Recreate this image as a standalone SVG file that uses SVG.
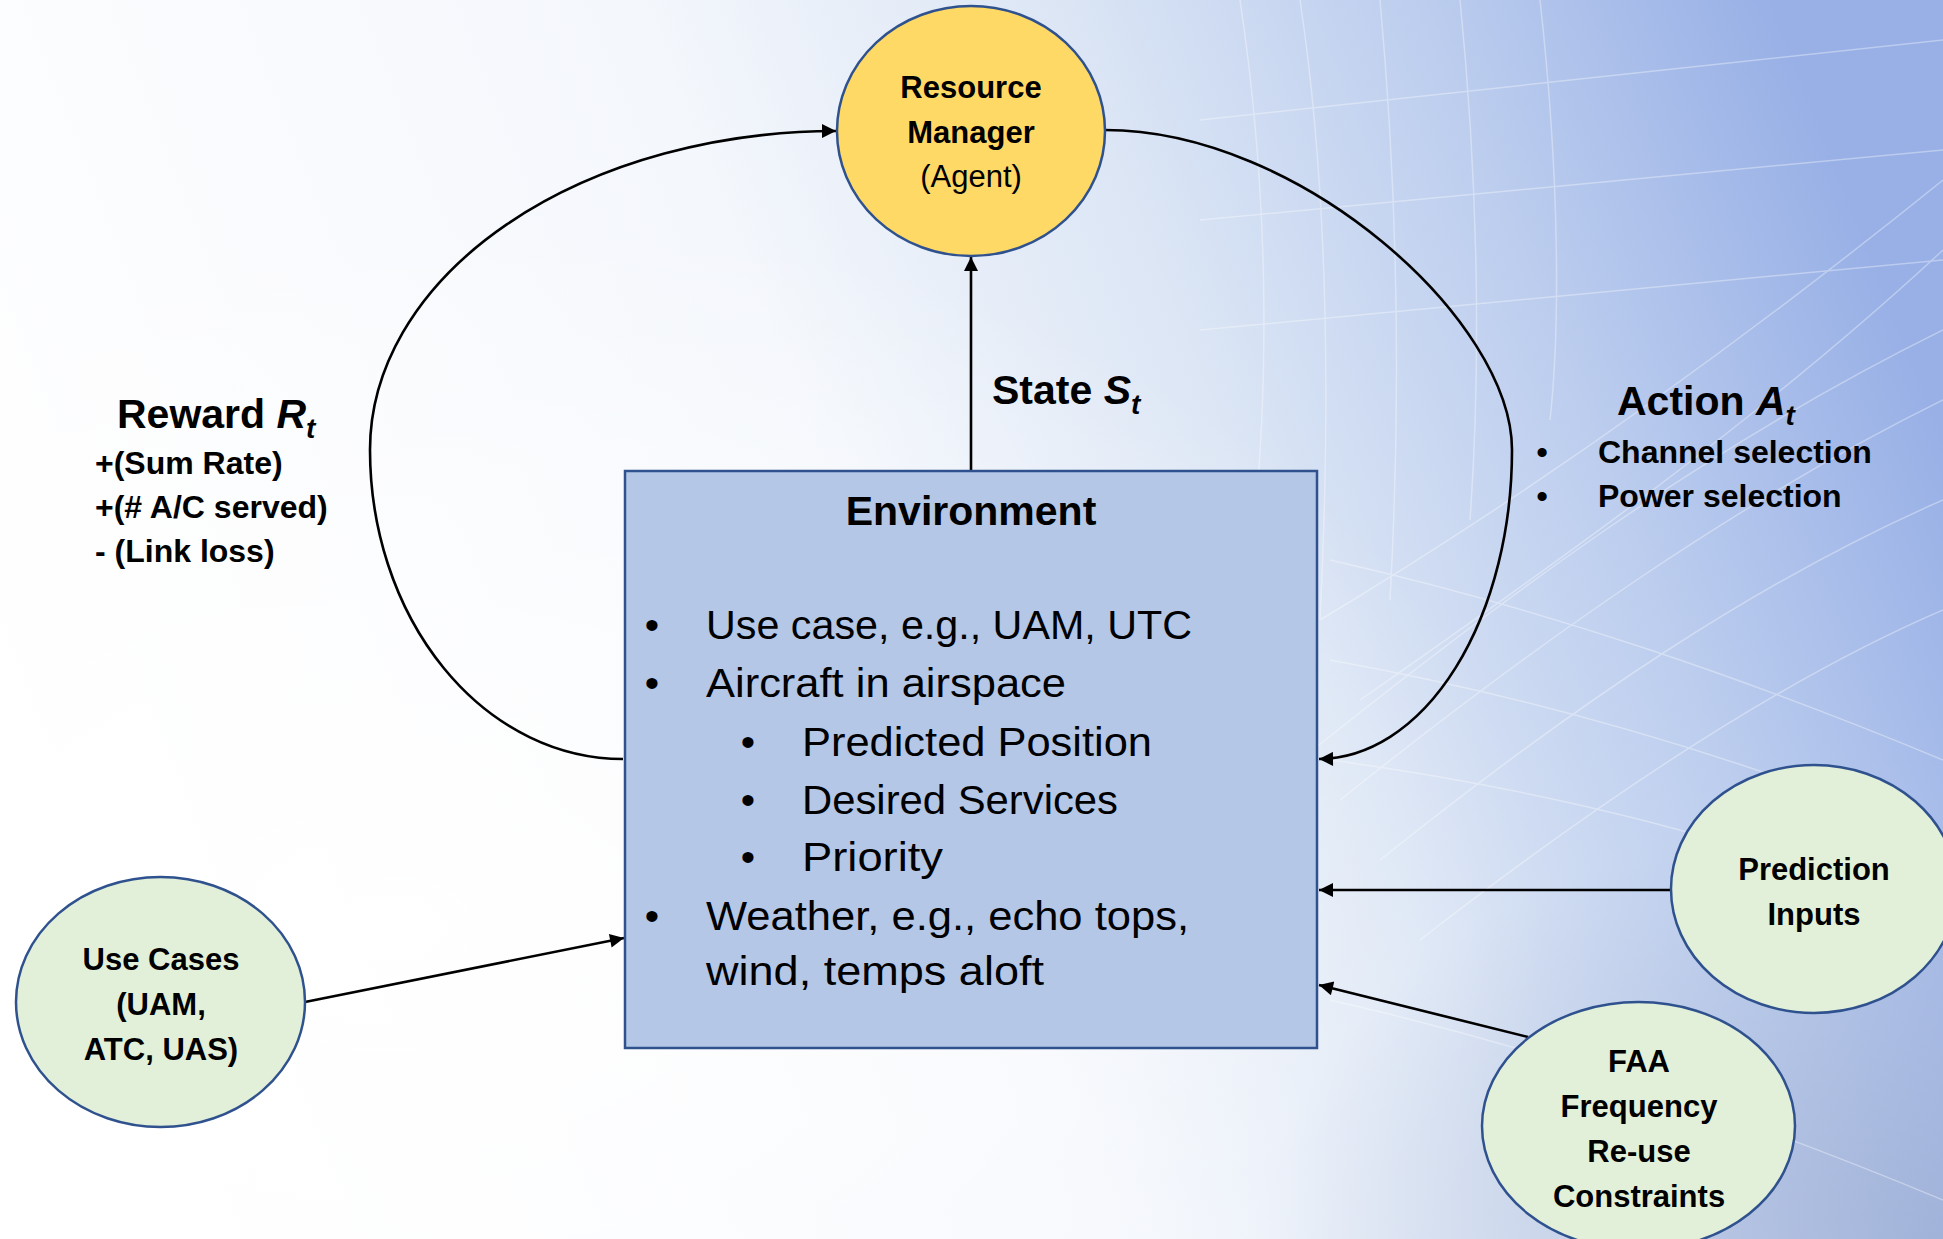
<svg xmlns="http://www.w3.org/2000/svg" width="1943" height="1239" viewBox="0 0 1943 1239">
<defs>
<linearGradient id="bg" x1="0" y1="0.6" x2="1" y2="0.35">
<stop offset="0" stop-color="#ffffff"/>
<stop offset="0.45" stop-color="#f4f7fc"/>
<stop offset="0.65" stop-color="#dce6f5"/>
<stop offset="0.83" stop-color="#bccdee"/>
<stop offset="1" stop-color="#98b0e6"/>
</linearGradient>
<radialGradient id="glow" cx="0.2" cy="0.75" r="0.6">
<stop offset="0" stop-color="#ffffff" stop-opacity="0.9"/>
<stop offset="1" stop-color="#ffffff" stop-opacity="0"/>
</radialGradient>
<radialGradient id="shade" cx="1" cy="1" r="0.35">
<stop offset="0" stop-color="#8a9bc6" stop-opacity="0.5"/>
<stop offset="1" stop-color="#8a9bc6" stop-opacity="0"/>
</radialGradient>
<marker id="arrow" viewBox="0 0 10 10" refX="10" refY="5" markerUnits="userSpaceOnUse" markerWidth="19" markerHeight="14" orient="auto">
<path d="M0,0 L10,5 L0,10 z" fill="#000"/>
</marker>
</defs>
<style>
.conn{fill:none;stroke:#000;stroke-width:2.6;marker-end:url(#arrow)}
.node{stroke:#2F528F;stroke-width:2.5}
.yellow{fill:#FFD966}
.green{fill:#E2F0D9}
.box{fill:#B4C7E7;stroke:#2F528F;stroke-width:2.5}
.t{font-family:"Liberation Sans",Arial,sans-serif;fill:#000}
.nb{font-size:31px;font-weight:bold;text-anchor:middle}
.nr{font-size:31px;text-anchor:middle}
.big{font-size:41px;font-weight:bold}
.sm{font-size:32px;font-weight:bold}
.body{font-size:41px}
.it{font-style:italic}
.sub{font-style:italic;font-size:28px}
.tex{fill:none;stroke:#ffffff;stroke-width:1.5;opacity:0.35}
</style>
<g id="background">
<rect x="0" y="0" width="1943" height="1239" fill="url(#bg)"/>
<rect x="0" y="0" width="1943" height="1239" fill="url(#glow)"/>
<rect x="0" y="0" width="1943" height="1239" fill="url(#shade)"/>
<g class="tex">
<path d="M1240 0 C1270 200 1270 400 1250 560"/>
<path d="M1300 0 C1330 200 1330 420 1320 620"/>
<path d="M1380 0 C1400 220 1400 420 1390 600"/>
<path d="M1460 0 C1480 200 1480 380 1470 520"/>
<path d="M1540 0 C1560 180 1560 330 1550 420"/>
<path d="M1200 120 L1943 40"/>
<path d="M1200 220 L1943 150"/>
<path d="M1200 330 L1943 260"/>
<path d="M1300 760 C1500 600 1700 450 1943 330"/>
<path d="M1340 800 C1540 640 1740 500 1943 400"/>
<path d="M1380 860 C1580 700 1760 580 1943 500"/>
<path d="M1420 940 C1600 800 1780 680 1943 610"/>
<path d="M1360 700 C1560 560 1760 420 1943 250"/>
<path d="M1320 620 C1520 500 1720 360 1943 180"/>
<path d="M1330 1000 C1550 1050 1750 1120 1943 1200"/>
<path d="M1330 560 C1550 610 1750 680 1943 760"/>
<path d="M1330 660 C1550 700 1750 760 1943 840"/>
<path d="M1330 760 C1550 790 1750 840 1943 920"/>
</g>
</g>
<g id="connectors">
<path id="reward" class="conn" d="M623 759 A253 309 0 0 1 370 450 A467 319 0 0 1 836 131"/>
<path id="action" class="conn" d="M1105 130 C1300 130 1512 320 1512 450 A194 309 0 0 1 1319 759"/>
<path id="state" class="conn" d="M971 471 L971 257"/>
<path id="usecases-env" class="conn" d="M305 1002 L624 938"/>
<path id="prediction-env" class="conn" d="M1671 890 L1319 890"/>
<path id="faa-env" class="conn" d="M1528 1037 L1319 985"/>
</g>
<g id="label-reward">
<text class="t big" x="117" y="428">Reward <tspan class="it">R</tspan><tspan class="sub" dy="10">t</tspan></text>
<text class="t sm" x="95" y="474">+(Sum Rate)</text>
<text class="t sm" x="95" y="518">+(# A/C served)</text>
<text class="t sm" x="95" y="562">- (Link loss)</text>
</g>
<g id="label-state">
<text class="t big" x="992" y="404">State <tspan class="it">S</tspan><tspan class="sub" dy="10">t</tspan></text>
</g>
<g id="label-action">
<text class="t big" x="1617" y="415">Action <tspan class="it">A</tspan><tspan class="sub" dy="10">t</tspan></text>
<text class="t sm" x="1542" y="463" text-anchor="middle">•</text>
<text class="t sm" x="1598" y="463">Channel selection</text>
<text class="t sm" x="1542" y="507" text-anchor="middle">•</text>
<text class="t sm" x="1598" y="507">Power selection</text>
</g>
<g id="resource-manager">
<ellipse class="node yellow" cx="971" cy="131" rx="134" ry="125"/>
<text class="t nb" x="971" y="98">Resource</text>
<text class="t nb" x="971" y="143">Manager</text>
<text class="t nr" x="971" y="187">(Agent)</text>
</g>
<g id="environment">
<rect class="box" x="625" y="471" width="692" height="577"/>
<text class="t big" x="971" y="525" text-anchor="middle">Environment</text>
<g class="t body">
<text x="652" y="639" text-anchor="middle">•</text>
<text x="706" y="639" textLength="486" lengthAdjust="spacingAndGlyphs">Use case, e.g., UAM, UTC</text>
<text x="652" y="697" text-anchor="middle">•</text>
<text x="706" y="697" textLength="360" lengthAdjust="spacingAndGlyphs">Aircraft in airspace</text>
<text x="748" y="756" text-anchor="middle">•</text>
<text x="802" y="756" textLength="350" lengthAdjust="spacingAndGlyphs">Predicted Position</text>
<text x="748" y="814" text-anchor="middle">•</text>
<text x="802" y="814" textLength="316" lengthAdjust="spacingAndGlyphs">Desired Services</text>
<text x="748" y="871" text-anchor="middle">•</text>
<text x="802" y="871" textLength="141" lengthAdjust="spacingAndGlyphs">Priority</text>
<text x="652" y="930" text-anchor="middle">•</text>
<text x="706" y="930" textLength="483" lengthAdjust="spacingAndGlyphs">Weather, e.g., echo tops,</text>
<text x="706" y="985" textLength="338" lengthAdjust="spacingAndGlyphs">wind, temps aloft</text>
</g>
</g>
<g id="use-cases">
<ellipse class="node green" cx="160.5" cy="1002" rx="144.5" ry="125"/>
<text class="t nb" x="161" y="970">Use Cases</text>
<text class="t nb" x="161" y="1015">(UAM,</text>
<text class="t nb" x="161" y="1060">ATC, UAS)</text>
</g>
<g id="prediction-inputs">
<ellipse class="node green" cx="1814" cy="889" rx="143" ry="124"/>
<text class="t nb" x="1814" y="880">Prediction</text>
<text class="t nb" x="1814" y="925">Inputs</text>
</g>
<g id="faa-constraints">
<ellipse class="node green" cx="1638.5" cy="1126" rx="156.5" ry="124"/>
<text class="t nb" x="1639" y="1072">FAA</text>
<text class="t nb" x="1639" y="1117">Frequency</text>
<text class="t nb" x="1639" y="1162">Re-use</text>
<text class="t nb" x="1639" y="1207">Constraints</text>
</g>
</svg>
